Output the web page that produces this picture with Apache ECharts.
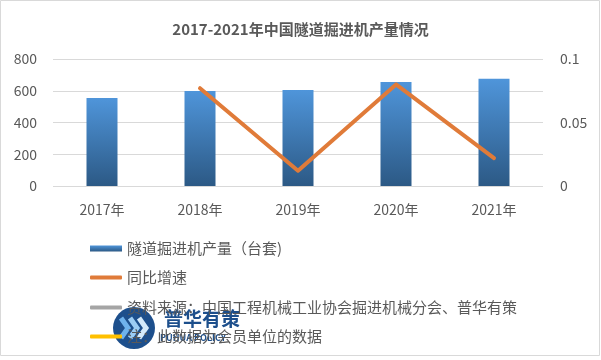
<!DOCTYPE html>
<html><head><meta charset="utf-8">
<script src="https://cdn.jsdelivr.net/npm/echarts@6/dist/echarts.min.js"></script>
<style>html,body{margin:0;padding:0;background:#fff}#c{width:601px;height:360px}</style>
</head><body><div id="c"></div>
<script>
const categories = ['2017年','2018年','2019年','2020年','2021年'];
const output = [554, 598, 605, 655, 675];
const growth = ['-', 0.077, 0.012, 0.080, 0.022];
const leftTicks = [0, 200, 400, 600, 800];
const rightTickLabels = ['0', '0.05', '0.1'];
const seriesNames = ['隧道掘进机产量（台套)', '同比增速', '资料来源：中国工程机械工业协会掘进机械分会、普华有策', '注：此数据为会员单位的数据'];

const font = '"Noto Sans CJK SC", "Microsoft YaHei", sans-serif';
const txt = '#595959';
const chart = echarts.init(document.getElementById('c'));
function legendAt(i, top, icon, h, w) {
  return { data: [seriesNames[i]], orient: 'vertical', left: 90, top: top, icon: icon,
    itemWidth: w, itemHeight: h, padding: 0, itemGap: 0,
    textStyle: { color: txt, fontSize: 15, fontFamily: font }, selectedMode: false };
}
chart.setOption({
  animation: false,
  title: { text: '2017-2021年中国隧道掘进机产量情况', left: 'center', top: 17,
    textStyle: { color: txt, fontSize: 15, fontWeight: 'bold', fontFamily: font } },
  grid: { left: 53, right: 58, top: 59, bottom: 174 },
  legend: [
    legendAt(0, 241, 'rect', 6, 32),
    legendAt(1, 270, 'roundRect', 4, 32),
    legendAt(2, 300, 'roundRect', 4, 32),
    legendAt(3, 329, 'roundRect', 4, 32)
  ],
  xAxis: { type: 'category', data: categories,
    axisLine: { show: false }, axisTick: { show: false },
    axisLabel: { color: txt, fontSize: 14, margin: 17, fontFamily: font } },
  yAxis: [
    { type: 'value', min: leftTicks[0], max: leftTicks[leftTicks.length-1], interval: 200,
      axisLine: { show: false }, axisTick: { show: false },
      axisLabel: { color: txt, fontSize: 14, margin: 16, fontFamily: font },
      splitLine: { lineStyle: { color: '#D9D9D9', width: 1 } } },
    { type: 'value', min: 0, max: 0.1, interval: 0.025,
      axisLine: { show: false }, axisTick: { show: false },
      axisLabel: { color: txt, fontSize: 14, margin: 17, fontFamily: font,
        formatter: function (v) { const s = String(+v.toFixed(3)); return rightTickLabels.indexOf(s) >= 0 ? s : ''; } },
      splitLine: { show: false } }
  ],
  series: [
    { name: seriesNames[0], type: 'bar', data: output, barWidth: 31,
      itemStyle: { color: new echarts.graphic.LinearGradient(0, 0, 0, 1, [
        { offset: 0, color: '#4F95DA' }, { offset: 1, color: '#2C5985' }]) } },
    { name: seriesNames[1], type: 'line', yAxisIndex: 1, data: growth, symbol: 'none',
      itemStyle: { color: '#E07B39' },
      lineStyle: { color: '#E07B39', width: 4, cap: 'round', join: 'round' }, z: 5 },
    { name: seriesNames[2], type: 'line', yAxisIndex: 1, data: [], symbol: 'none',
      itemStyle: { color: '#A5A5A5' }, lineStyle: { color: '#A5A5A5' } },
    { name: seriesNames[3], type: 'line', yAxisIndex: 1, data: [], symbol: 'none',
      itemStyle: { color: '#FFC000' }, lineStyle: { color: '#FFC000' } }
  ],
  graphic: [
    { type: 'rect', shape: { x: 0.5, y: 0.5, width: 599, height: 355 },
      style: { fill: 'none', stroke: '#D9D9D9', lineWidth: 1 }, z: 100, silent: true },
    { type: 'group', z: 100, silent: true, children: [
      { type: 'circle', shape: { cx: 134, cy: 328, r: 21 }, style: { fill: '#1D4F8C' } },
      { type: 'polyline', shape: { points: [[121,318],[128,328],[121,338]] }, style: { stroke: '#6FB2EC', lineWidth: 5, fill: 'none' } },
      { type: 'polyline', shape: { points: [[130,318],[137,328],[130,338]] }, style: { stroke: '#9CCDF4', lineWidth: 5, fill: 'none' } },
      { type: 'polyline', shape: { points: [[139,318],[146,328],[139,338]] }, style: { stroke: '#D4EAFB', lineWidth: 5, fill: 'none' } },
      { type: 'text', x: 164, y: 309, style: { text: '普华有策', fill: '#1D4F8C', font: 'bold 19px ' + font } },
      { type: 'text', x: 160, y: 333, style: { text: 'PUHUA POLICY', fill: '#1D4F8C', font: 'bold 9px ' + font } }
    ] }
  ]
});
</script></body></html>
